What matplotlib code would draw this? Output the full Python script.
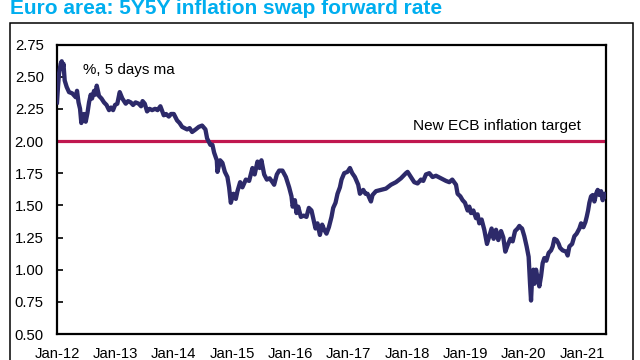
import matplotlib
matplotlib.use("Agg")
import matplotlib.pyplot as plt
from matplotlib import font_manager
from matplotlib.patches import Rectangle

# ---- data (decimal years, % values) ----
years = [2012.000, 2012.017, 2012.034, 2012.063, 2012.081, 2012.094, 2012.111, 2012.132,
         2012.166, 2012.206, 2012.262, 2012.321, 2012.343, 2012.369, 2012.395, 2012.417,
         2012.437, 2012.463, 2012.492, 2012.523, 2012.549, 2012.578, 2012.600, 2012.635,
         2012.660, 2012.681, 2012.720, 2012.763, 2012.806, 2012.849, 2012.892, 2012.926,
         2012.961, 2012.995, 2013.034, 2013.075, 2013.120, 2013.178, 2013.218, 2013.264,
         2013.304, 2013.346, 2013.401, 2013.441, 2013.467, 2013.504, 2013.544, 2013.587,
         2013.630, 2013.681, 2013.724, 2013.772, 2013.830, 2013.870, 2013.916, 2013.955,
         2014.002, 2014.058, 2014.101, 2014.144, 2014.187, 2014.230, 2014.273, 2014.316,
         2014.376, 2014.431, 2014.487, 2014.544, 2014.573, 2014.607, 2014.629, 2014.664,
         2014.693, 2014.739, 2014.750, 2014.796, 2014.835, 2014.877, 2014.921, 2014.950,
         2014.979, 2015.024, 2015.065, 2015.093, 2015.139, 2015.178, 2015.237, 2015.293,
         2015.350, 2015.388, 2015.436, 2015.473, 2015.504, 2015.551, 2015.597, 2015.645,
         2015.693, 2015.722, 2015.768, 2015.808, 2015.864, 2015.923, 2015.979, 2016.019,
         2016.039, 2016.077, 2016.105, 2016.134, 2016.180, 2016.228, 2016.276, 2016.317,
         2016.362, 2016.391, 2016.431, 2016.465, 2016.506, 2016.545, 2016.580, 2016.619,
         2016.660, 2016.705, 2016.734, 2016.774, 2016.808, 2016.849, 2016.877, 2016.923,
         2016.979, 2017.021, 2017.060, 2017.106, 2017.163, 2017.192, 2017.249, 2017.288,
         2017.322, 2017.381, 2017.408, 2017.467, 2017.552, 2017.638, 2017.724, 2017.810,
         2017.895, 2017.981, 2018.009, 2018.067, 2018.123, 2018.180, 2018.238, 2018.278,
         2018.324, 2018.381, 2018.437, 2018.496, 2018.581, 2018.667, 2018.724, 2018.775,
         2018.839, 2018.866, 2018.913, 2018.952, 2018.993, 2019.038, 2019.067, 2019.096,
         2019.136, 2019.182, 2019.209, 2019.238, 2019.278, 2019.324, 2019.370, 2019.410,
         2019.449, 2019.484, 2019.525, 2019.564, 2019.611, 2019.650, 2019.684, 2019.724,
         2019.770, 2019.810, 2019.851, 2019.895, 2019.925, 2019.942, 2019.971, 2020.010,
         2020.050, 2020.084, 2020.108, 2020.125, 2020.142, 2020.165, 2020.182, 2020.211,
         2020.238, 2020.267, 2020.297, 2020.324, 2020.353, 2020.388, 2020.427, 2020.468,
         2020.496, 2020.525, 2020.564, 2020.599, 2020.623, 2020.667, 2020.726, 2020.753,
         2020.782, 2020.829, 2020.868, 2020.907, 2020.954, 2020.983, 2021.022, 2021.057,
         2021.079, 2021.103, 2021.125, 2021.154, 2021.182, 2021.211, 2021.240, 2021.268,
         2021.297, 2021.326, 2021.353, 2021.383, 2021.412]
rate = [2.30, 2.42, 2.52, 2.60, 2.62, 2.56, 2.60, 2.47,
        2.42, 2.38, 2.37, 2.34, 2.39, 2.30, 2.25, 2.14,
        2.18, 2.21, 2.15, 2.22, 2.30, 2.36, 2.33, 2.39,
        2.36, 2.43, 2.35, 2.33, 2.30, 2.28, 2.24, 2.26,
        2.24, 2.28, 2.29, 2.38, 2.33, 2.29, 2.31, 2.30,
        2.28, 2.30, 2.29, 2.27, 2.31, 2.29, 2.23, 2.25,
        2.24, 2.25, 2.24, 2.27, 2.20, 2.21, 2.19, 2.21,
        2.21, 2.16, 2.14, 2.11, 2.10, 2.09, 2.10, 2.07,
        2.09, 2.11, 2.12, 2.09, 2.02, 1.99, 1.97, 1.97,
        1.91, 1.85, 1.76, 1.85, 1.83, 1.76, 1.72, 1.64,
        1.52, 1.59, 1.55, 1.61, 1.68, 1.64, 1.70, 1.69,
        1.79, 1.74, 1.84, 1.79, 1.85, 1.74, 1.70, 1.71,
        1.68, 1.66, 1.74, 1.77, 1.77, 1.72, 1.64, 1.57,
        1.49, 1.54, 1.44, 1.49, 1.41, 1.42, 1.41, 1.48,
        1.46, 1.40, 1.32, 1.36, 1.27, 1.35, 1.31, 1.28,
        1.33, 1.41, 1.48, 1.52, 1.59, 1.64, 1.70, 1.75,
        1.76, 1.79, 1.75, 1.72, 1.66, 1.59, 1.62, 1.59,
        1.59, 1.53, 1.58, 1.61, 1.62, 1.63, 1.66, 1.68,
        1.71, 1.75, 1.76, 1.72, 1.68, 1.67, 1.70, 1.69,
        1.74, 1.75, 1.72, 1.73, 1.71, 1.69, 1.68, 1.70,
        1.66, 1.59, 1.57, 1.54, 1.52, 1.46, 1.49, 1.44,
        1.46, 1.40, 1.43, 1.36, 1.39, 1.31, 1.20, 1.26,
        1.32, 1.24, 1.31, 1.23, 1.30, 1.25, 1.14, 1.19,
        1.24, 1.22, 1.30, 1.32, 1.34, 1.33, 1.32, 1.26,
        1.18, 1.10, 0.89, 0.76, 0.92, 1.00, 0.89, 1.00,
        0.93, 0.87, 0.95, 1.05, 1.09, 1.07, 1.13, 1.15,
        1.18, 1.24, 1.23, 1.20, 1.17, 1.15, 1.14, 1.11,
        1.18, 1.20, 1.26, 1.28, 1.32, 1.36, 1.33, 1.37,
        1.41, 1.46, 1.52, 1.57, 1.58, 1.53, 1.59, 1.62,
        1.58, 1.61, 1.54, 1.59, 1.57]
target = 2.00
tick_years = [2012, 2013, 2014, 2015, 2016, 2017, 2018, 2019, 2020, 2021]
tick_labels = ["Jan-12", "Jan-13", "Jan-14", "Jan-15", "Jan-16",
               "Jan-17", "Jan-18", "Jan-19", "Jan-20", "Jan-21"]
y_ticks = [0.50, 0.75, 1.00, 1.25, 1.50, 1.75, 2.00, 2.25, 2.50, 2.75]

# ---- fonts ----
names = {f.name for f in font_manager.fontManager.ttflist}
if "Liberation Sans Narrow" in names:
    fam = ["Liberation Sans Narrow", "DejaVu Sans"]
    k = 1.2
else:
    fam = ["Liberation Sans", "DejaVu Sans"]
    k = 1.0
tick_fs = 10.7 * k
note_fs = 10.9 * k
tgt_fs = 11.1 * k

NAVY = "#2D2A6A"
RED = "#C0174F"
CYAN = "#00AEEF"

fig = plt.figure(figsize=(6.4, 3.6), dpi=100)
ax = fig.add_axes([57 / 640, 1 - 334 / 360, (606 - 57) / 640, (334 - 44.5) / 360])

ax.axhline(target, color=RED, lw=2.3, zorder=2)
ax.plot(years, rate, color=NAVY, lw=3.1, solid_joinstyle="round", zorder=3)

ax.set_xlim(2012.0, 2021.41)
ax.set_ylim(0.5, 2.75)
ax.set_yticks(y_ticks)
ax.set_yticklabels([f"{v:.2f}" for v in y_ticks], family=fam, fontsize=tick_fs)
ax.set_xticks(tick_years)
ax.set_xticklabels(tick_labels, family=fam, fontsize=tick_fs)
ax.tick_params(axis="y", direction="in", length=4, width=1.2, pad=9.5, colors="black")
ax.tick_params(axis="x", length=0, pad=9)
for s in ax.spines.values():
    s.set_linewidth(1.6)
    s.set_color("black")

ax.text(0.047, 0.935, "%, 5 days ma", transform=ax.transAxes, family=fam,
        fontsize=note_fs, va="top", ha="left")
ax.text(0.955, 2.06, "New ECB inflation target", transform=ax.get_yaxis_transform(),
        family=fam, fontsize=tgt_fs, va="bottom", ha="right")

# outer frame and title
fig.patches.append(Rectangle((10 / 640, -0.05), 623 / 640, 1 - 23 / 360 + 0.05,
                             transform=fig.transFigure, fill=False, lw=1.1,
                             edgecolor="black"))
fig.text(10 / 640, 1 - 14.5 / 360, "Euro area: 5Y5Y inflation swap forward rate",
         family=["Liberation Sans", "DejaVu Sans"], fontweight="bold", fontsize=15,
         color=CYAN, ha="left", va="baseline")

fig.savefig("out.png", dpi=100)
